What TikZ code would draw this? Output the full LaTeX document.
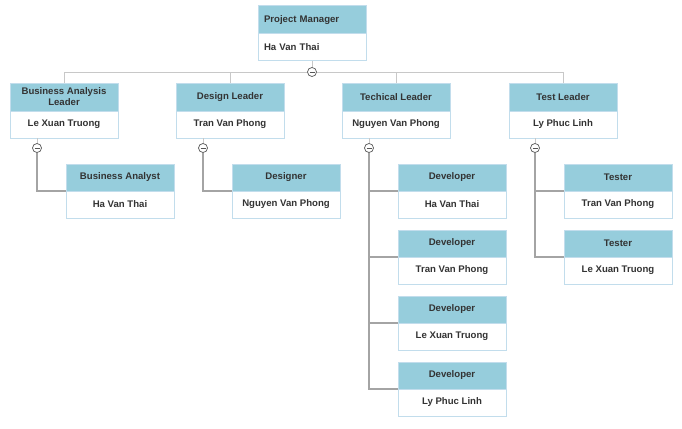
\documentclass[tikz,border=0pt]{standalone}
\usepackage{fontspec}
\setsansfont{Liberation Sans}
\usepackage{tikz}
\usetikzlibrary{positioning}
\definecolor{cardhead}{HTML}{96CDDC}
\definecolor{cardline}{HTML}{C2DDEC}
\definecolor{cardtext}{HTML}{333333}
\definecolor{linkgray}{HTML}{A4A4A4}
\definecolor{buslight}{HTML}{C8C8C8}
\definecolor{togglegray}{HTML}{555555}
\tikzset{
    card/.style={draw=cardline, line width=1pt, outer sep=0pt, inner sep=2pt,
        minimum width=108pt, minimum height=27pt, align=center, text=cardtext,
        font=\sffamily\bfseries\fontsize{9.6}{11}\selectfont},
    head/.style={card, fill=cardhead, anchor=north west},
    body/.style={card, fill=white, below=0pt of #1},
    link/.style={draw=linkgray, line width=1.3pt},
    bus/.style={draw=buslight, line width=1pt},
    toggle/.style={circle, draw=togglegray, fill=white, line width=0.7pt,
        minimum size=9pt, inner sep=0pt,
        path picture={\draw[togglegray, line width=0.7pt]
            ([xshift=-2.5pt]path picture bounding box.center) -- ++(5pt,0);}},
}

\begin{document}
\begin{tikzpicture}[x=1pt, y=-1pt]
\useasboundingbox (0,0) rectangle (682,428);

% project manager
\node[head, minimum height=28pt, text width=96pt, align=left] (pmh) at (258,6) {Project Manager};
\node[body=pmh, text width=96pt, align=left] (pm) {Ha Van Thai};

% leaders
\node[head, minimum height=28pt] (bah) at (10,83) {Business Analysis\\Leader};
\node[body=bah] (ba) {Le Xuan Truong};
\node[head, minimum height=28pt] (dlh) at (176,83) {Design Leader};
\node[body=dlh] (dl) {Tran Van Phong};
\node[head, minimum height=28pt] (tch) at (342,83) {Techical Leader};
\node[body=tch] (tc) {Nguyen Van Phong};
\node[head, minimum height=28pt] (tlh) at (509,83) {Test Leader};
\node[body=tlh] (tl) {Ly Phuc Linh};

% members
\node[head] (anh) at (66,164) {Business Analyst};
\node[body=anh] (an) {Ha Van Thai};
\node[head] (dsh) at (232,164) {Designer};
\node[body=dsh] (ds) {Nguyen Van Phong};
\foreach \i/\who in {1/Ha Van Thai, 2/Tran Van Phong, 3/Le Xuan Truong, 4/Ly Phuc Linh} {
    \node[head] (dv\i h) at (398,98+66*\i) {Developer};
    \node[body=dv\i h] (dv\i) {\who};
}
\node[head] (ts1h) at (564,164) {Tester};
\node[body=ts1h] (ts1) {Tran Van Phong};
\node[head] (ts2h) at (564,230) {Tester};
\node[body=ts2h] (ts2) {Le Xuan Truong};

% toggles
\node[toggle] (pmt) at ([yshift=-11pt]pm.south) {};
\node[toggle] (bat) at ([xshift=27pt,yshift=-10pt]ba.south west) {};
\node[toggle] (dlt) at ([xshift=27pt,yshift=-10pt]dl.south west) {};
\node[toggle] (tct) at ([xshift=27pt,yshift=-10pt]tc.south west) {};
\node[toggle] (tlt) at ([xshift=26pt,yshift=-10pt]tl.south west) {};

% links
\draw[bus] (pm.south) -- (pmt.north);
\draw[bus] (pmt.west) -- (bah.north |- pmt) -- (bah.north);
\draw[bus] (pmt.east) -- (tlh.north |- pmt) -- (tlh.north);
\draw[bus] (dlh.north |- pmt) -- (dlh.north);
\draw[bus] (tch.north |- pmt) -- (tch.north);
\foreach \t/\b in {bat/ba, dlt/dl, tct/tc, tlt/tl}
    \draw[bus] (\t |- \b.south) -- (\t.north);
\draw[link] (bat.south) |- (an.north west);
\draw[link] (dlt.south) |- (ds.north west);
\foreach \i in {1,...,4}
    \draw[link] (tct.south) |- (dv\i.north west);
\draw[link] (tlt.south) |- (ts1.north west);
\draw[link] (tlt.south) |- (ts2.north west);
\end{tikzpicture}
\end{document}
